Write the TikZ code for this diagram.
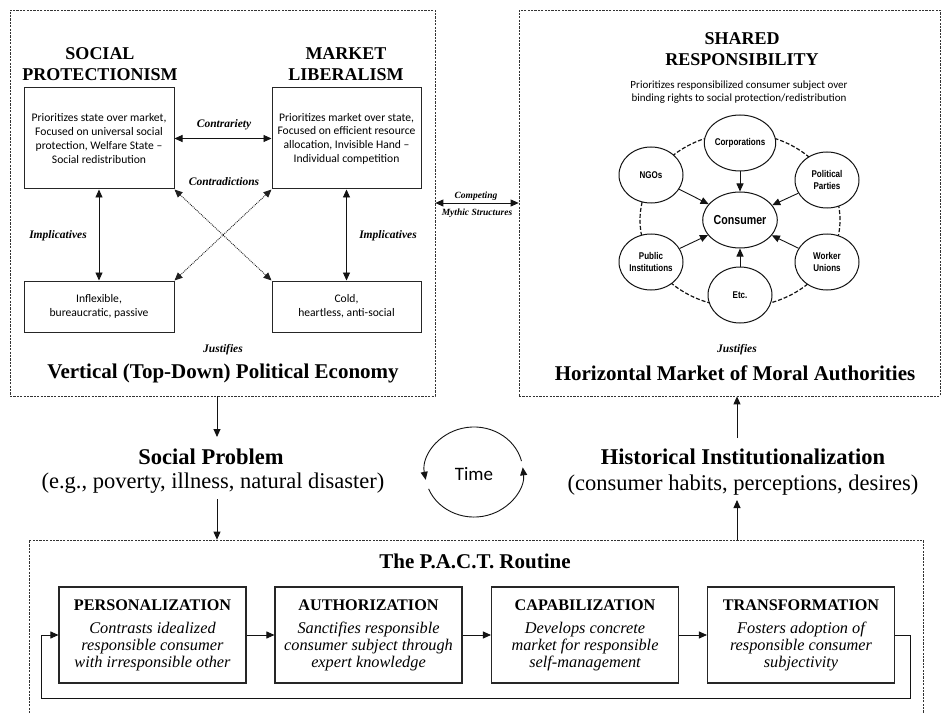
\documentclass[tikz,border=0pt]{standalone}
\usepackage{fontspec}
\setmainfont{Liberation Serif}
\newfontfamily\calfont{Carlito}
\newfontfamily\narrowfont[FakeStretch=0.82]{Liberation Sans}
\newcommand\pacttitlefont{\upshape\bfseries\fontsize{16.2}{17}\selectfont}
\usetikzlibrary{arrows.meta,shapes.geometric}
\begin{document}
\begin{tikzpicture}[x=1pt,y=-1pt,
  >={Triangle[length=8pt,width=7pt]},
  frame/.style={draw=gray!40!black, line width=0.7pt, dash pattern=on 2.2pt off 1.2pt, inner sep=0pt},
  sbox/.style={draw=gray!30!black, line width=1pt, align=center, inner sep=0pt,
    font=\calfont\fontsize{11.6}{13.7}\selectfont},
  head/.style={align=center, font=\bfseries\fontsize{18}{21.5}\selectfont},
  lab/.style={font=\bfseries\itshape\fontsize{11.5}{13}\selectfont},
  smalllab/.style={font=\bfseries\itshape\fontsize{9.5}{11}\selectfont},
  bigtitle/.style={font=\bfseries\fontsize{21}{24}\selectfont},
  midtitle/.style={font=\bfseries\fontsize{22.5}{26}\selectfont},
  midsub/.style={font=\fontsize{22.5}{26}\selectfont},
  arr/.style={draw=gray!15!black, line width=0.9pt},
  dotline/.style={draw=gray!25!black, line width=0.9pt, densely dotted},
  circ/.style={ellipse, draw=gray!15!black, line width=1pt, fill=white, minimum width=64, minimum height=56,
    inner sep=0pt, align=center, font=\narrowfont\bfseries\fontsize{9.8}{11.5}\selectfont},
  ringst/.style={ellipse, draw=gray!15!black, line width=1.2pt, dash pattern=on 4pt off 2pt, minimum width=200, minimum height=174, inner sep=0pt},
  pbox/.style={draw=gray!30!black, line width=1.1pt, minimum width=187, minimum height=96, align=center, inner sep=0pt,
    font=\itshape\fontsize{16.3}{17}\selectfont},
]
\useasboundingbox (0,0) rectangle (942,714);
\fill[white] (0,0) rectangle (942,714);

% frames
\node[frame, minimum width=425, minimum height=386] (tlf) at (222.5,203) {};
\node[frame, minimum width=421, minimum height=386] (trf) at (729.5,203) {};
\node[frame, minimum width=894, minimum height=200] (btf) at (476,640) {};

% ---------- top left ----------
\node[head] (sph) at (100,64) {SOCIAL\\PROTECTIONISM};
\node[head] (mlh) at (346,64) {MARKET\\LIBERALISM};
\node[sbox, minimum width=150, minimum height=101] (spbox) at (99,138.5)
  {Prioritizes state over market,\\Focused on universal social\\protection, Welfare State –\\Social redistribution};
\node[sbox, minimum width=149, minimum height=101] (mlbox) at (346.5,138.5)
  {Prioritizes market over state,\\Focused on efficient resource\\allocation, Invisible Hand –\\Individual competition};
\node[sbox, minimum width=150, minimum height=51] (spinf) at (99,306.5)
  {Inflexible,\\bureaucratic, passive};
\node[sbox, minimum width=149, minimum height=51] (mlinf) at (346.5,306.5)
  {Cold,\\heartless, anti-social};

\draw[arr, <->] (spbox) -- (mlbox);
\node[lab] (contr) at (224,125) {Contrariety};
\node[lab] (contd) at (224,182) {Contradictions};
\draw[arr, <->] (spbox) -- (spinf);
\draw[arr, <->] (mlbox) -- (mlinf);
\node[lab] (imp1) at (58,236) {Implicatives};
\node[lab] (imp2) at (388,236) {Implicatives};
\draw[dotline, <->] (spbox.south east) -- (mlinf.north west);
\draw[dotline, <->] (spinf.north east) -- (mlbox.south west);
\node[lab] (just1) at (223,350) {Justifies};
\node[bigtitle] (vt) at (223,373) {Vertical (Top-Down) Political Economy};

% competing
\draw[arr, <->] (tlf.east) -- (trf.west);
\node[smalllab] (comp) at (476,196) {Competing};
\node[smalllab] (myth) at (477,213) {Mythic Structures};

% ---------- top right ----------
\node[head] (srh) at (742,49) {SHARED\\RESPONSIBILITY};
\node[align=center, font=\calfont\fontsize{11}{13}\selectfont] (srt) at (739,92.5)
  {Prioritizes responsibilized consumer subject over\\binding rights to social protection/redistribution};
\node[ringst] (ring) at (740,220) {};
\node[circ] (corp) at (740,143) {Corporations};
\node[circ] (ngo) at (651,175) {NGOs};
\node[circ] (pol) at (827,180) {Political\\Parties};
\node[circ] (pub) at (651,262) {Public\\Institutions};
\node[circ] (wu) at (827,262) {Worker\\Unions};
\node[circ] (etc) at (740,295) {Etc.};
\node[circ, font=\narrowfont\bfseries\fontsize{13}{15}\selectfont] (cons) at (740,220) {Consumer};
\foreach \n in {corp,ngo,pol,pub,wu,etc} \draw[arr, ->] (\n) -- (cons);
\node[lab] (just2) at (737,350) {Justifies};
\node[bigtitle] (ht) at (735,373) {Horizontal Market of Moral Authorities};

% ---------- middle ----------
\coordinate (spin) at (217,437);
\draw[arr, ->] (tlf.south -| spin) -- (spin);
\node[midtitle] (spt) at (211,457) {Social Problem};
\node[midsub] (sps) at (213,483) {(e.g., poverty, illness, natural disaster)};
\coordinate (spout) at (217,499);
\draw[arr, ->] (spout) -- (spout |- btf.north);

\coordinate (hiin) at (737,438);
\draw[arr, ->] (hiin) -- (hiin |- trf.south);
\node[midtitle] (hit) at (743,457) {Historical Institutionalization};
\node[midsub] (his) at (743,485) {(consumer habits, perceptions, desires)};
\coordinate (hiout) at (737,500);
\draw[arr, ->] (hiout |- btf.north) -- (hiout);

\node[font=\calfont\fontsize{19}{22}\selectfont] (time) at (474,474) {Time};
\coordinate (tA) at (521.5,461.1);
\coordinate (tB) at (428.6,488.9);
\draw[arr, ->] (tA) arc[start angle=14, end angle=190, x radius=49pt, y radius=45pt];
\draw[arr, ->] (tB) arc[start angle=202, end angle=366, x radius=49pt, y radius=45pt];

% ---------- bottom ----------
\node[bigtitle] (pact) at (475,561) {The P.A.C.T. Routine};
\node[pbox] (pers) at (152.5,635) {{\pacttitlefont PERSONALIZATION}\\[6pt]Contrasts idealized\\responsible consumer\\with irresponsible other};
\node[pbox] (auth) at (368.5,635) {{\pacttitlefont AUTHORIZATION}\\[6pt]Sanctifies responsible\\consumer subject through\\expert knowledge};
\node[pbox] (capa) at (585,635) {{\pacttitlefont CAPABILIZATION}\\[6pt]Develops concrete\\market for responsible\\self-management};
\node[pbox] (trans) at (801,635) {{\pacttitlefont TRANSFORMATION}\\[6pt]Fosters adoption of\\responsible consumer\\subjectivity};
\draw[arr, ->] (pers) -- (auth);
\draw[arr, ->] (auth) -- (capa);
\draw[arr, ->] (capa) -- (trans);
\coordinate (fbR) at (910,698);
\coordinate (fbL) at (41,698);
\draw[arr, ->] (trans.east) -| (fbR) -- (fbL) |- (pers.west);
\end{tikzpicture}
\end{document}
